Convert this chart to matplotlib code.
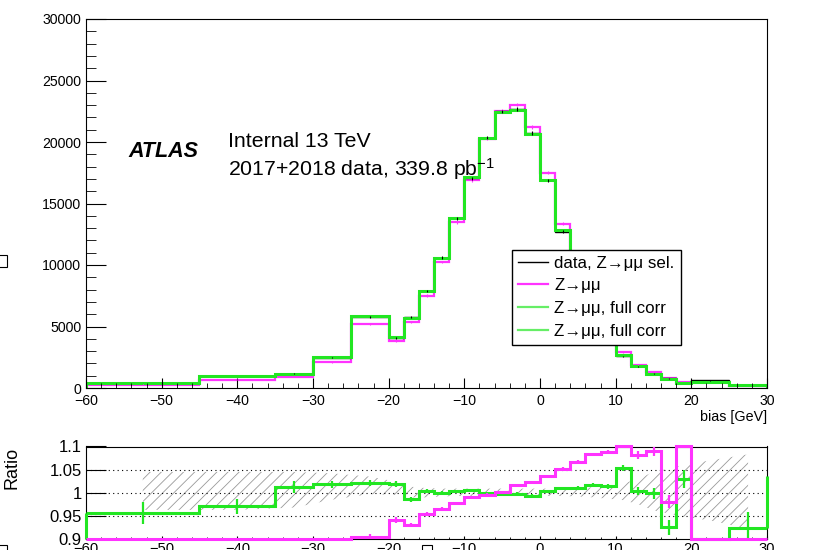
import matplotlib
matplotlib.use('Agg')
import matplotlib.pyplot as plt
import numpy as np
from matplotlib.lines import Line2D
from matplotlib.patches import Rectangle
from matplotlib.ticker import MultipleLocator

plt.rcParams['font.family'] = ['Liberation Sans', 'DejaVu Sans']
plt.rcParams['mathtext.fontset'] = 'custom'
plt.rcParams['mathtext.rm'] = 'Liberation Sans'
plt.rcParams['mathtext.it'] = 'Liberation Sans:italic'
plt.rcParams['mathtext.bf'] = 'Liberation Sans:bold'
plt.rcParams['hatch.linewidth'] = 0.6

# bin edges of the bias histogram (GeV)
edges = np.array([-60, -45, -35, -30, -25, -20, -18, -16, -14, -12, -10, -8, -6, -4, -2,
                  0, 2, 4, 6, 8, 10, 12, 14, 16, 18, 20, 25, 30])

# data, Z->mumu selection (events per bin)
data_counts = np.array([420, 980, 1150, 2450, 5750, 4060, 5790, 7870, 10600, 13800, 17050,
                        20350, 22480, 22680, 20750, 16900, 12700, 9000, 6200, 4100, 2580,
                        1750, 1160, 790, 395, 620, 225])

# MC / data ratios
ratio_mc = np.array([0.64, 0.69, 0.78, 0.85, 0.905, 0.941, 0.930, 0.955, 0.965, 0.977, 0.991,
                     0.996, 1.001, 1.016, 1.023, 1.036, 1.052, 1.067, 1.083, 1.088, 1.12,
                     1.081, 1.090, 0.981, 1.20, 0.80, 0.80])
ratio_corr = np.array([0.956, 0.971, 1.012, 1.018, 1.021, 1.019, 0.986, 1.004, 1.000, 1.004,
                       1.006, 0.999, 0.998, 0.998, 0.994, 1.003, 1.010, 1.010, 1.017, 1.014,
                       1.054, 1.004, 0.999, 0.925, 1.030, 0.85, 0.923])
ratio_corr_next = 1.037  # next bin beyond 30 GeV

err_mc = np.array([0.02, 0.015, 0.012, 0.008, 0.005, 0.006, 0.005, 0.004, 0.004, 0.003, 0.003,
                   0.003, 0.003, 0.003, 0.003, 0.003, 0.003, 0.004, 0.004, 0.005, 0.007,
                   0.009, 0.010, 0.014, 0.02, 0.03, 0.035])
err_corr = np.array([0.024, 0.016, 0.013, 0.008, 0.006, 0.006, 0.005, 0.004, 0.004, 0.003,
                     0.003, 0.003, 0.003, 0.003, 0.003, 0.003, 0.003, 0.004, 0.004, 0.005,
                     0.007, 0.009, 0.012, 0.016, 0.02, 0.03, 0.035])

# systematic band (hatched) at the bin centres
band_hi = np.array([1.045, 1.045, 1.045, 1.042, 1.035, 1.024, 1.013, 1.010, 1.009, 1.009,
                    1.009, 1.009, 1.009, 1.009, 1.009, 1.009, 1.009, 1.010, 1.012, 1.015,
                    1.020, 1.030, 1.045, 1.052, 1.060, 1.070, 1.083])
band_lo = np.array([0.963, 0.963, 0.968, 0.985, 0.997, 0.995, 0.990, 0.990, 0.992, 0.993,
                    0.993, 0.993, 0.993, 0.993, 0.993, 0.993, 0.993, 0.992, 0.990, 0.987,
                    0.984, 0.975, 0.962, 0.955, 0.948, 0.940, 0.922])

green = '#22e622'
magenta = '#ff33ff'

centers = 0.5 * (edges[1:] + edges[:-1])
mc_counts = data_counts * ratio_mc
corr_counts = data_counts * ratio_corr

W, H = 814, 550
fig = plt.figure(figsize=(W / 100, H / 100), dpi=100)


def frac(x0, y0, x1, y1):
    return [x0 / W, 1 - y1 / H, (x1 - x0) / W, (y1 - y0) / H]


# ---- main panel
ax = fig.add_axes(frac(86, 19, 767, 388))
ax.stairs(mc_counts, edges, color=magenta, lw=1.6)
ax.errorbar(centers, mc_counts, yerr=np.sqrt(mc_counts), fmt='none', ecolor=magenta, elinewidth=0.8)
ax.stairs(data_counts, edges, color='black', lw=1.0)
ax.errorbar(centers, data_counts, yerr=np.sqrt(data_counts), fmt='none', ecolor='black', elinewidth=0.8)
ax.stairs(corr_counts, edges, color=green, lw=2.2)

ax.set_xlim(-60, 30)
ax.set_ylim(0, 30000)
ax.set_xticks(np.arange(-60, 31, 10))
ax.xaxis.set_minor_locator(MultipleLocator(2))
ax.set_yticks(np.arange(0, 30001, 5000))
ax.yaxis.set_minor_locator(MultipleLocator(1000))
ax.tick_params(axis='both', which='both', direction='in', top=False, right=False, labelsize=10.2)
ax.tick_params(axis='y', which='major', length=14.4, pad=3.5)
ax.tick_params(axis='y', which='minor', length=7.2)
ax.tick_params(axis='x', which='major', length=7.2, pad=4)
ax.tick_params(axis='x', which='minor', length=3.6)
ax.set_xlabel('bias [GeV]', loc='right', fontsize=10.3, labelpad=2)

ax.text(0.063, 0.626, 'ATLAS', transform=ax.transAxes, fontsize=15.5,
        fontweight='bold', fontstyle='italic', va='baseline')
ax.text(0.2085, 0.654, 'Internal 13 TeV', transform=ax.transAxes, fontsize=15.3, va='baseline')
ax.text(0.2085, 0.576, r'2017+2018 data, 339.8 pb$^{\mathregular{-1}}$', transform=ax.transAxes,
        fontsize=15.3, va='baseline')

handles = [Line2D([], [], color='black', lw=1.0),
           Line2D([], [], color=magenta, lw=1.6),
           Line2D([], [], color='#66ee66', lw=1.6),
           Line2D([], [], color='#66ee66', lw=1.6)]
labels = ['data, Z\u2192\u03bc\u03bc sel.', 'Z\u2192\u03bc\u03bc',
          'Z\u2192\u03bc\u03bc, full corr', 'Z\u2192\u03bc\u03bc, full corr']
leg = ax.legend(handles, labels, loc='upper left', bbox_to_anchor=((512 - 86) / 681, (388.3 - 250) / 369.3),
                fontsize=12.2, frameon=True, fancybox=False, edgecolor='black', framealpha=1,
                borderpad=0.35, labelspacing=0.45, handlelength=1.8, handletextpad=0.35,
                borderaxespad=0)
leg.get_frame().set_linewidth(1.0)

# ---- ratio panel
rax = fig.add_axes(frac(86, 446.5, 767, 539))
lo, hi = 0.9, 1.1
rax.fill_between(centers, band_lo, band_hi, facecolor='none', edgecolor='#999999',
                 hatch='///', linewidth=0)
for yv in (0.95, 1.0, 1.05):
    rax.axhline(yv, color='black', ls=(0, (1, 3)), lw=0.8)

rc = np.clip(ratio_corr, lo, hi)
rm = np.clip(ratio_mc, lo, hi)
rax.stairs(rc, edges, baseline=None, color=green, lw=2.2, clip_on=False, zorder=3)
rax.vlines([edges[0]], lo, rc[0], color=green, lw=2.2, clip_on=False, zorder=3)
rax.vlines([edges[-1]], rc[-1], ratio_corr_next, color=green, lw=2.2, clip_on=False, zorder=3)
ok = (ratio_corr > lo) & (ratio_corr < hi)
rax.errorbar(centers[ok], ratio_corr[ok], yerr=err_corr[ok], fmt='none', ecolor=green,
             elinewidth=1.6, zorder=3)

rax.stairs(rm, edges, baseline=None, color=magenta, lw=2.2, clip_on=False, zorder=4)
ok = (ratio_mc > lo) & (ratio_mc < hi)
rax.errorbar(centers[ok], ratio_mc[ok], yerr=err_mc[ok], fmt='none', ecolor=magenta,
             elinewidth=1.6, zorder=4)

rax.set_xlim(-60, 30)
rax.set_ylim(lo, hi)
rax.set_xticks(np.arange(-60, 31, 10))
rax.xaxis.set_minor_locator(MultipleLocator(2))
rax.set_yticks([0.9, 0.95, 1.0, 1.05, 1.1])
rax.set_yticklabels(['0.9', '0.95', '1', '1.05', '1.1'])
rax.tick_params(axis='both', which='both', direction='in', top=False, right=False)
rax.tick_params(axis='y', which='major', length=14.4, pad=3, labelsize=12)
rax.tick_params(axis='x', which='major', length=2.5, pad=2, labelsize=10.6)
rax.tick_params(axis='x', which='minor', length=1.2)
fig.text(12 / W, 1 - 468 / H, 'Ratio', rotation=90, ha='center', va='center', fontsize=13)

# small boxes at the canvas edges
for x0, y0, s in [(-5, 255, 11.7), (421.7, 545, 10), (-4, 545, 10.5)]:
    fig.patches.append(Rectangle((x0 / W, 1 - (y0 + s) / H), s / W, s / H, fill=False,
                                 edgecolor='black', lw=0.8, transform=fig.transFigure))

fig.savefig('out.png', dpi=100)
